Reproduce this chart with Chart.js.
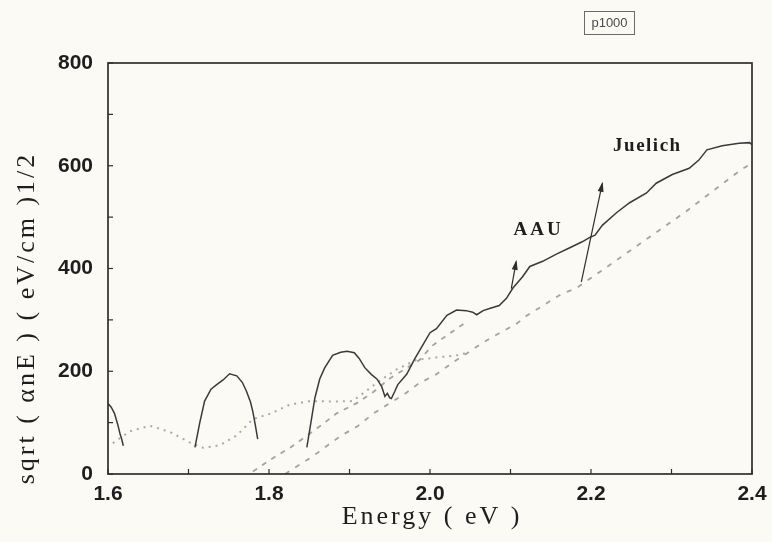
<!DOCTYPE html>
<html>
<head>
<meta charset="utf-8">
<script src="https://cdn.jsdelivr.net/npm/chart.js@4.4.1/dist/chart.umd.min.js"></script>
<style>
  html, body { margin: 0; padding: 0; background: #fbfaf5; }
  #wrap { width: 772px; height: 542px; }
</style>
</head>
<body>
<div id="wrap"><canvas id="c" width="772" height="542"></canvas></div>
<script>
// Measured curve (solid), three pieces separated by null gaps
const solidEnergy = [
  1.600, 1.604, 1.608, 1.612, 1.615, 1.617, 1.619,
  1.660,
  1.708, 1.714, 1.720, 1.728, 1.735, 1.743, 1.751, 1.760, 1.767, 1.772, 1.777, 1.780, 1.783, 1.786,
  1.820,
  1.847, 1.851, 1.857, 1.863, 1.869, 1.879, 1.889, 1.897, 1.906, 1.912, 1.919, 1.927, 1.934, 1.940,
  1.944, 1.947, 1.950, 1.952, 1.956, 1.960, 1.971, 1.981, 1.991, 2.000, 2.008, 2.021, 2.033, 2.045,
  2.053, 2.058, 2.066, 2.074, 2.086, 2.095, 2.103, 2.115, 2.124, 2.140, 2.157, 2.173, 2.189, 2.198,
  2.205, 2.214, 2.232, 2.248, 2.269, 2.281, 2.301, 2.322, 2.334, 2.344, 2.363, 2.384, 2.397, 2.400
];
const solidValue = [
  137, 130, 118, 97, 78, 68, 55,
  null,
  52, 100, 142, 165, 174, 183, 195, 191, 178, 161, 140, 121, 95, 68,
  null,
  52, 90, 148, 185, 206, 231, 237, 239, 236, 225, 207, 194, 185, 170,
  151, 157, 148, 147, 160, 174, 194, 224, 251, 275, 283, 309, 319, 318,
  315, 310, 318, 322, 328, 342, 362, 384, 404, 414, 428, 440, 452, 460,
  465, 484, 509, 528, 547, 566, 583, 595, 611, 631, 639, 644, 645, 641
];

// Fine dotted curve
const dottedEnergy = [1.606, 1.627, 1.652, 1.677, 1.702, 1.718, 1.739, 1.760, 1.780, 1.801, 1.826,
  1.851, 1.884, 1.904, 1.921, 1.937, 1.959, 1.983, 2.008, 2.030, 2.047];
const dottedValue = [60, 83, 94, 82, 61, 51, 56, 75, 107, 117, 135,
  142, 141, 142, 162, 181, 204, 222, 227, 230, 236];

// Upper dashed line
const dashedUpperEnergy = [1.780, 1.807, 1.828, 1.865, 1.884, 1.909, 1.930, 1.950, 1.987, 2.003, 2.045];
const dashedUpperValue = [5, 33, 53, 95, 118, 138, 160, 186, 222, 250, 296];

// Lower dashed line, running to the right edge
const dashedLowerEnergy = [1.820, 1.853, 1.873, 1.890, 1.910, 1.929, 1.947, 1.968, 1.985, 2.008, 2.028,
  2.047, 2.065, 2.086, 2.107, 2.120, 2.163, 2.182, 2.217, 2.318, 2.387, 2.400];
const dashedLowerValue = [0, 33, 56, 75, 93, 117, 135, 155, 175, 194, 217,
  236, 255, 274, 292, 308, 350, 362, 400, 511, 593, 605];

// Axis tick labels
const xTickLabels = ['1.6', '1.8', '2.0', '2.2', '2.4'];
const yTickLabels = ['0', '200', '400', '600', '800'];

// Annotations: label positions and arrows (energy, value)
const labelAAU = { text: 'AAU', e: 2.135, v: 475 };
const labelJuelich = { text: 'Juelich', e: 2.270, v: 638 };
const arrowAAU = { from: [2.101, 361], to: [2.107, 413] };
const arrowJuelich = { from: [2.188, 374], to: [2.214, 565] };

const pts = (xs, ys) => xs.map((x, i) => ({ x, y: ys[i] }));

const INK = '#2e2e2e';

function drawArrow(ctx, x, y, a) {
  const x0 = x.getPixelForValue(a.from[0]), y0 = y.getPixelForValue(a.from[1]);
  const x1 = x.getPixelForValue(a.to[0]), y1 = y.getPixelForValue(a.to[1]);
  const ang = Math.atan2(y1 - y0, x1 - x0);
  ctx.save();
  ctx.strokeStyle = INK; ctx.fillStyle = INK; ctx.lineWidth = 1.2;
  ctx.beginPath(); ctx.moveTo(x0, y0); ctx.lineTo(x1, y1); ctx.stroke();
  ctx.translate(x1, y1); ctx.rotate(ang);
  ctx.beginPath();
  ctx.moveTo(2, 0); ctx.lineTo(-8, -3); ctx.lineTo(-8, 3); ctx.closePath();
  ctx.fill();
  ctx.restore();
}

const framePlugin = {
  id: 'frame',
  beforeDraw(chart) {
    const { ctx, width, height } = chart;
    ctx.save();
    ctx.fillStyle = '#fbfaf5';
    ctx.fillRect(0, 0, width, height);
    ctx.restore();
  },
  afterDraw(chart) {
    const { ctx, chartArea: a, scales: { x, y } } = chart;
    ctx.save();
    // plot frame
    ctx.strokeStyle = INK; ctx.lineWidth = 1.7;
    ctx.strokeRect(a.left, a.top, a.right - a.left, a.bottom - a.top);
    // inward tick marks
    ctx.lineWidth = 1.2;
    for (const t of x.ticks) {
      const px = x.getPixelForValue(t.value);
      ctx.beginPath(); ctx.moveTo(px, a.bottom); ctx.lineTo(px, a.bottom - 5); ctx.stroke();
    }
    for (const t of y.ticks) {
      const py = y.getPixelForValue(t.value);
      ctx.beginPath(); ctx.moveTo(a.left, py); ctx.lineTo(a.left + 5, py); ctx.stroke();
    }
    // axis titles
    ctx.fillStyle = '#1e1e1e';
    ctx.font = '26px "Liberation Serif"';
    ctx.letterSpacing = '3px';
    ctx.textAlign = 'center'; ctx.textBaseline = 'middle';
    ctx.fillText('Energy ( eV )', 432, 517);
    ctx.save();
    ctx.translate(27, 318); ctx.rotate(-Math.PI / 2);
    ctx.fillText('sqrt ( \u03b1nE ) ( eV/cm )1/2', 0, 0);
    ctx.restore();
    // curve labels
    ctx.font = 'bold 19px "Liberation Serif"';
    ctx.letterSpacing = '3px';
    ctx.fillText(labelAAU.text, x.getPixelForValue(labelAAU.e), y.getPixelForValue(labelAAU.v));
    ctx.letterSpacing = '1.5px';
    ctx.fillText(labelJuelich.text, x.getPixelForValue(labelJuelich.e), y.getPixelForValue(labelJuelich.v));
    ctx.letterSpacing = '0px';
    drawArrow(ctx, x, y, arrowAAU);
    drawArrow(ctx, x, y, arrowJuelich);
    // small boxed tag above the plot
    ctx.strokeStyle = '#6a6a6a'; ctx.lineWidth = 1;
    ctx.strokeRect(584.5, 11.5, 50, 23);
    ctx.fillStyle = '#4a4a4a';
    ctx.font = '13px "Liberation Sans"';
    ctx.fillText('p1000', 609.5, 23.5);
    ctx.restore();
  }
};

new Chart(document.getElementById('c'), {
  type: 'scatter',
  data: {
    datasets: [
      {
        label: 'solid', data: pts(solidEnergy, solidValue), showLine: true, spanGaps: false,
        borderColor: '#3a3a3a', borderWidth: 1.5, pointRadius: 0, order: 0
      },
      {
        label: 'dotted', data: pts(dottedEnergy, dottedValue), showLine: true,
        borderColor: '#a9a9a9', borderWidth: 2, borderDash: [2, 5], pointRadius: 0, order: 1
      },
      {
        label: 'dashedUpper', data: pts(dashedUpperEnergy, dashedUpperValue), showLine: true,
        borderColor: '#a3a3a3', borderWidth: 1.8, borderDash: [5, 6], pointRadius: 0, order: 2
      },
      {
        label: 'dashedLower', data: pts(dashedLowerEnergy, dashedLowerValue), showLine: true,
        borderColor: '#a3a3a3', borderWidth: 1.8, borderDash: [5, 7], pointRadius: 0, order: 3
      }
    ]
  },
  options: {
    responsive: false,
    animation: false,
    devicePixelRatio: 1,
    layout: { padding: { left: 0, right: 20, top: 63, bottom: 0 } },
    plugins: { legend: { display: false }, tooltip: { enabled: false } },
    scales: {
      x: {
        type: 'linear', min: 1.6, max: 2.4,
        grid: { display: false }, border: { display: false },
        afterBuildTicks(scale) {
          scale.ticks = [];
          for (let i = 0; i <= 8; i++) scale.ticks.push({ value: 1.6 + i * 0.1 });
        },
        afterFit(scale) { scale.height = 68; },
        ticks: {
          padding: 0, maxRotation: 0, autoSkip: false,
          color: '#1e1e1e', font: { family: 'Liberation Sans', size: 21, weight: 'bold' },
          callback: (v, i) => (i % 2 === 0 ? xTickLabels[i / 2] : '')
        }
      },
      y: {
        type: 'linear', min: 0, max: 800,
        grid: { display: false }, border: { display: false },
        afterBuildTicks(scale) {
          scale.ticks = [];
          for (let i = 0; i <= 8; i++) scale.ticks.push({ value: i * 100 });
        },
        afterFit(scale) { scale.width = 108; },
        ticks: {
          padding: 7, autoSkip: false,
          color: '#1e1e1e', font: { family: 'Liberation Sans', size: 21, weight: 'bold' },
          callback: (v, i) => (i % 2 === 0 ? yTickLabels[i / 2] : '')
        }
      }
    }
  },
  plugins: [framePlugin]
});
</script>
</body>
</html>
